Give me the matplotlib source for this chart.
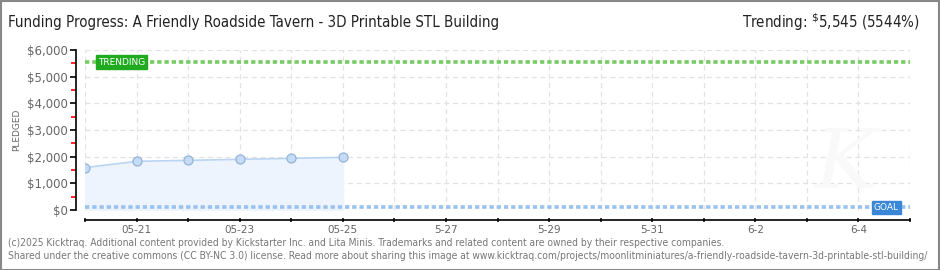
import matplotlib
matplotlib.use("Agg")
import matplotlib.pyplot as plt
from matplotlib.patches import Rectangle
import matplotlib.ticker as mticker

# ---- data ----
day_labels = ["05-20", "05-21", "05-22", "05-23", "05-24", "05-25", "5-26", "5-27", "5-28",
              "5-29", "5-30", "5-31", "6-1", "6-2", "6-3", "6-4", "6-5"]
pledged_days = [0, 1, 2, 3, 4, 5]
pledged_values = [1590, 1825, 1862, 1900, 1937, 1975]
goal = 100
trending = 5545
trending_pct = 5544
title = "Funding Progress: A Friendly Roadside Tavern - 3D Printable STL Building"
footer1 = "(c)2025 Kicktraq. Additional content provided by Kickstarter Inc. and Lita Minis. Trademarks and related content are owned by their respective companies."
footer2 = "Shared under the creative commons (CC BY-NC 3.0) license. Read more about sharing this image at www.kicktraq.com/projects/moonlitminiatures/a-friendly-roadside-tavern-3d-printable-stl-building/"

W, H = 940, 270
fig = plt.figure(figsize=(W / 100, H / 100), dpi=100)
fig.patch.set_facecolor("white")

# outer border
fig.add_artist(Rectangle((0.5 / W, 0.5 / H), 1 - 1.5 / W, 1 - 1.5 / H, transform=fig.transFigure,
                         fill=False, edgecolor="#888888", linewidth=1.5))

ax = fig.add_axes([85 / W, 1 - 210 / H, (910 - 85) / W, 160 / H])
ax.set_xlim(0, len(day_labels) - 1)
ax.set_ylim(0, 6000)

# grid
for d in range(len(day_labels)):
    ax.axvline(d, color="#e2e2e2", linestyle=(0, (4, 3)), linewidth=0.9, zorder=0)
for v in range(1000, 6001, 1000):
    ax.axhline(v, color="#e2e2e2", linestyle=(0, (4, 3)), linewidth=0.9, zorder=0)

# watermark
ax.text(14.75, 1700, "K", fontsize=60, color="#f9f9f9", style="italic", ha="center", va="center",
        family="DejaVu Serif", zorder=0)

# series
ax.fill_between(pledged_days, pledged_values, 0, color="#edf4fd", zorder=1)
ax.plot(pledged_days, pledged_values, color="#b9d5f2", linewidth=1.2, zorder=2)
ax.plot(pledged_days, pledged_values, linestyle="none", marker="o", markersize=6.5,
        markerfacecolor="#c6dcf6", markeredgecolor="#94b3d9", markeredgewidth=0.9, zorder=3)

# trending and goal lines
ax.axhline(trending, color="#77cc66", linewidth=2.6, linestyle=(0, (1.2, 0.8)), zorder=2)
ax.axhline(goal, color="#99c2ee", linewidth=2.6, linestyle=(0, (1.2, 0.8)), zorder=2)

# labels on lines
ax.text(0.25, trending, "TRENDING", fontsize=6.5, color="white", ha="left", va="center",
        family="DejaVu Sans", zorder=5,
        bbox=dict(boxstyle="square,pad=0.25", facecolor="#1faa1f", edgecolor="#1faa1f"))
ax.text(15.3, goal, "GOAL", fontsize=6.5, color="white", ha="left", va="center",
        family="DejaVu Sans", zorder=5,
        bbox=dict(boxstyle="square,pad=0.25", facecolor="#3a87d8", edgecolor="#3a87d8"))

# spines
for s in ["top", "right"]:
    ax.spines[s].set_visible(False)
ax.spines["left"].set_position(("outward", 6.5))
ax.spines["bottom"].set_position(("outward", 7.5))
ax.spines["left"].set_linewidth(1.2)
ax.spines["bottom"].set_linewidth(1.2)

ax.yaxis.set_major_locator(mticker.MultipleLocator(1000))
ax.yaxis.set_minor_locator(mticker.MultipleLocator(500))
ax.yaxis.set_major_formatter(mticker.FuncFormatter(lambda v, p: "${:,.0f}".format(v)))
ax.tick_params(axis="y", which="major", length=4, width=1.2, color="black",
               labelsize=8.5, labelcolor="#666666", pad=2)
ax.tick_params(axis="y", which="minor", length=3.5, width=1.2, color="#ff0000")

ax.set_xticks(range(len(day_labels)))
ax.set_xticklabels([lab if i % 2 == 1 else "" for i, lab in enumerate(day_labels)])
ax.tick_params(axis="x", which="major", length=3, width=1.1, direction="inout",
               labelsize=7.5, labelcolor="#666666", pad=2)

ax.set_ylabel("PLEDGED", fontsize=6.5, color="#666666", labelpad=4)

# title and trending
fig.text(8 / W, 1 - 22 / H, title, fontsize=10.8, color="#222222", ha="left", va="center",
         family="DejaVu Sans", stretch="condensed")
fig.text(920 / W, 1 - 22 / H, "Trending: $^{\\$}$%s (%d%%)" % ("{:,}".format(trending), trending_pct),
         fontsize=10.8, color="#222222", ha="right", va="center", family="DejaVu Sans",
         stretch="condensed")

# footer
fig.text(8 / W, 1 - 243 / H, footer1, fontsize=7.35, color="#777777", ha="left", va="center",
         family="DejaVu Sans", stretch="condensed")
fig.text(8 / W, 1 - 256 / H, footer2, fontsize=7.35, color="#777777", ha="left", va="center",
         family="DejaVu Sans", stretch="condensed")

fig.savefig("out.png", dpi=100, facecolor="white")
